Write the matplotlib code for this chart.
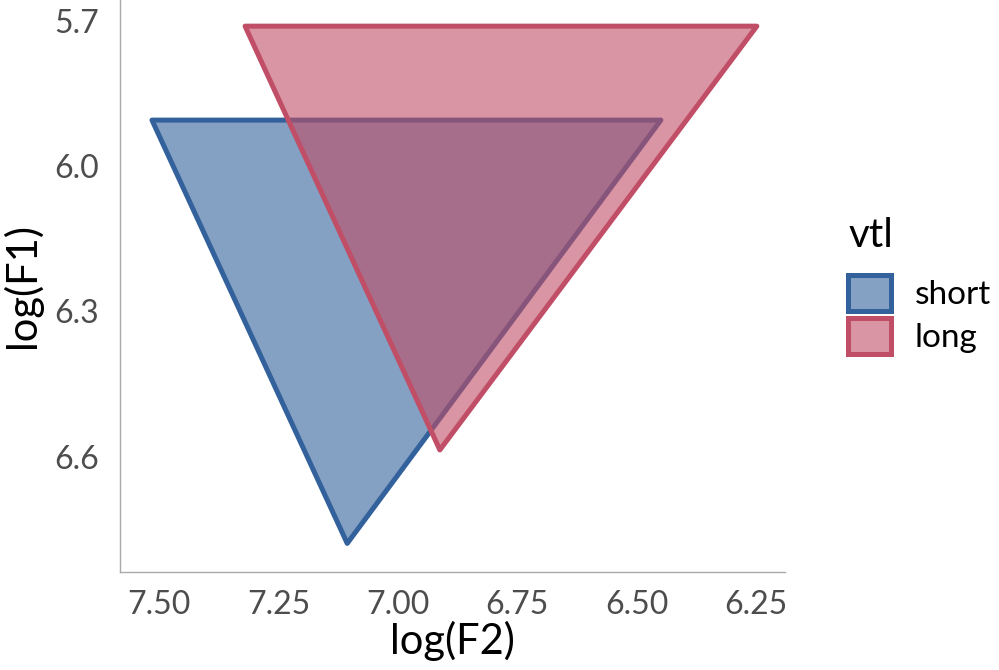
import matplotlib
matplotlib.use("Agg")
import matplotlib.pyplot as plt
from matplotlib.colors import to_rgba
from matplotlib.patches import Polygon, Patch

plt.rcParams['font.family'] = ['Lato', 'DejaVu Sans']

# vowel triangles (i, a, u corners) per vocal tract length group
groups = ["short", "long"]
f2_short = [7.515, 6.449, 7.106]
f1_short = [5.905, 5.905, 6.779]
f2_long = [7.320, 6.248, 6.912]
f1_long = [5.711, 5.711, 6.586]

x_ticks = [7.50, 7.25, 7.00, 6.75, 6.50, 6.25]
y_ticks = [5.7, 6.0, 6.3, 6.6]

edge_cols = {"short": "#33619B", "long": "#C04E66"}

fig = plt.figure(figsize=(9.99, 6.70), dpi=100)
ax = fig.add_axes([0.1201, 0.1463, 0.6657, 0.8537])

data = {"short": (f2_short, f1_short), "long": (f2_long, f1_long)}
for g in groups:
    xs, ys = data[g]
    col = edge_cols[g]
    poly = Polygon(list(zip(xs, ys)), closed=True, facecolor=to_rgba(col, 0.6),
                   edgecolor=col, linewidth=3.6, joinstyle='round')
    ax.add_patch(poly)

ax.set_xlim(7.582, 6.189)
ax.set_ylim(6.838, 5.657)
ax.set_xticks(x_ticks)
ax.set_xticklabels(["%.2f" % v for v in x_ticks])
ax.set_yticks(y_ticks)
ax.set_yticklabels(["%.1f" % v for v in y_ticks])
ax.tick_params(length=0, labelsize=23, labelcolor="#4D4D4D")
ax.tick_params(axis='x', pad=13)
ax.tick_params(axis='y', pad=15)

for s in ["top", "right"]:
    ax.spines[s].set_visible(False)
for s in ["left", "bottom"]:
    ax.spines[s].set_color("#AAAAAA")
    ax.spines[s].set_linewidth(1.0)

ax.set_xlabel("log(F2)", fontsize=30)
ax.set_ylabel("log(F1)", fontsize=30)
ax.xaxis.set_label_coords(0.5, -0.085)
ax.yaxis.set_label_coords(-0.118, 0.5)

handles = [Patch(facecolor=to_rgba(edge_cols[g], 0.6),
                 edgecolor=edge_cols[g], linewidth=3.6) for g in groups]
leg = fig.legend(handles, groups, title="vtl", loc="upper left",
                 bbox_to_anchor=(0.849, 0.676), frameon=False, fontsize=24,
                 title_fontsize=29, handlelength=1.3, handleheight=1.3,
                 handletextpad=0.7, labelspacing=0.2, borderaxespad=0,
                 borderpad=0)
leg._legend_box.align = "left"
leg._legend_box.sep = 15

fig.savefig("out.png", dpi=100)
